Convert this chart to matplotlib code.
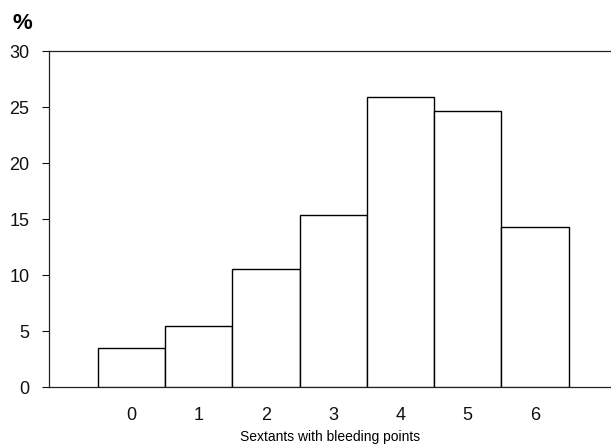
import numpy as np
import matplotlib.pyplot as plt

# Percent of subjects by number of sextants with bleeding points
sextants = [0, 1, 2, 3, 4, 5, 6]
percent = [3.5, 5.5, 10.6, 15.4, 25.9, 24.7, 14.3]
y_ticks = [0, 5, 10, 15, 20, 25, 30]

plt.rcParams['font.family'] = ['Liberation Sans', 'DejaVu Sans']

fig = plt.figure(figsize=(6.11, 4.47), dpi=100)
ax = fig.add_axes([0.080, 0.1336, 0.920, 0.7516])

# Adjacent bars, white fill, black outline
ax.bar(sextants, percent, width=1.0, color='white', edgecolor='black', linewidth=1.0, zorder=3)

ax.set_xlim(-1.23, 7.13)
ax.set_ylim(0, 30)
ax.set_yticks(y_ticks)
ax.set_xticks(sextants)

# Frame: left, bottom and top lines only
ax.spines['right'].set_visible(False)
for loc in ['left', 'bottom', 'top']:
    ax.spines[loc].set_color('#222222')
    ax.spines[loc].set_linewidth(0.9)

ax.tick_params(axis='y', direction='out', length=5, width=0.8, pad=9, labelsize=13, colors='#111111')
ax.tick_params(axis='x', length=0, pad=14.5, labelsize=13, colors='#111111')

ax.set_xlabel('Sextants with bleeding points', fontsize=10, labelpad=4)
fig.text(0.021, 0.935, '%', fontsize=16, fontweight='bold', ha='left', va='baseline')

fig.savefig('out.png', dpi=100)
